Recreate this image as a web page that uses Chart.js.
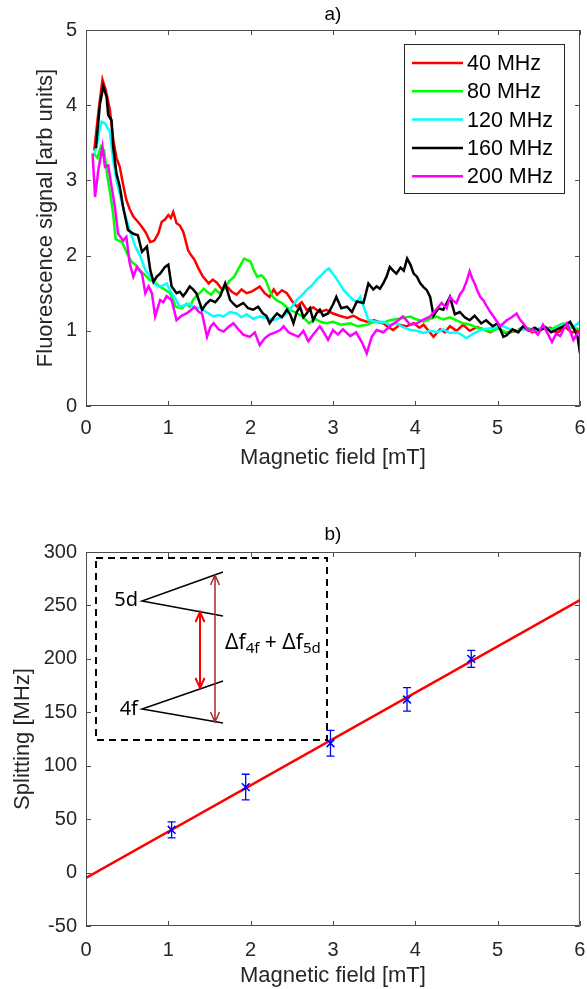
<!DOCTYPE html>
<html>
<head>
<meta charset="utf-8">
<script src="https://cdn.jsdelivr.net/npm/chart.js@4.4.0/dist/chart.umd.min.js"></script>
<style>
  html, body { margin: 0; padding: 0; background: #fff; }
  #top { position: absolute; left: 0; top: 0; width: 587px; height: 494px; }
  #bottom { position: absolute; left: 0; top: 494px; width: 587px; height: 495px; }
</style>
</head>
<body>
<div id="top"><canvas id="signalChart"></canvas></div>
<div id="bottom"><canvas id="splitChart"></canvas></div>
<script>
// a) fluorescence traces, one field/signal pair per RF frequency
const field40 = [0.10,0.15,0.20,0.24,0.29,0.33,0.37,0.41,0.45,0.49,0.53,0.575,0.63,0.68,0.73,0.78,0.83,0.88,0.92,0.96,1.00,1.03,1.06,1.10,1.14,1.18,1.21,1.24,1.28,1.32,1.37,1.42,1.49,1.54,1.59,1.65,1.71,1.77,1.83,1.89,1.95,2.01,2.07,2.11,2.17,2.23,2.28,2.32,2.38,2.44,2.50,2.56,2.62,2.68,2.76,2.84,2.92,3.00,3.08,3.17,3.25,3.33,3.41,3.50,3.61,3.67,3.73,3.81,3.89,3.98,4.05,4.10,4.16,4.22,4.30,4.36,4.42,4.50,4.58,4.66,4.75,4.83,4.91,5.00,5.10,5.23,5.32,5.42,5.52,5.64,5.72,5.82,5.90,6.00];
const signal40 = [3.40,3.90,4.34,4.20,3.94,3.55,3.30,3.18,2.95,2.74,2.62,2.52,2.45,2.38,2.30,2.18,2.20,2.30,2.45,2.48,2.54,2.50,2.58,2.43,2.40,2.32,2.20,2.07,2.00,1.94,1.82,1.72,1.63,1.68,1.64,1.55,1.59,1.52,1.48,1.55,1.50,1.52,1.56,1.59,1.50,1.45,1.55,1.48,1.54,1.50,1.40,1.32,1.38,1.28,1.31,1.25,1.28,1.23,1.20,1.17,1.20,1.15,1.12,1.14,1.10,1.05,1.01,1.08,1.06,1.10,1.04,1.08,1.00,0.92,1.02,0.98,1.06,1.00,1.08,1.00,1.05,1.02,0.98,1.04,0.97,1.00,1.06,0.98,1.02,1.04,0.97,1.05,0.98,1.00];

const field80 = [0.10,0.14,0.18,0.22,0.26,0.30,0.33,0.36,0.40,0.44,0.49,0.55,0.60,0.65,0.70,0.77,0.81,0.85,0.91,0.97,1.02,1.06,1.09,1.13,1.17,1.22,1.26,1.30,1.34,1.38,1.43,1.47,1.52,1.57,1.62,1.68,1.74,1.80,1.84,1.88,1.92,1.96,2.00,2.04,2.08,2.13,2.18,2.23,2.27,2.32,2.38,2.43,2.48,2.55,2.63,2.71,2.78,2.85,2.92,3.00,3.10,3.21,3.30,3.41,3.50,3.60,3.69,3.80,3.94,4.02,4.10,4.18,4.26,4.34,4.42,4.50,4.58,4.67,4.75,4.83,4.91,5.00,5.10,5.23,5.34,5.45,5.55,5.65,5.72,5.80,5.90,6.00];
const signal80 = [3.35,3.30,3.45,3.40,3.05,2.78,2.55,2.22,2.20,2.18,2.05,1.92,1.88,1.81,1.76,1.68,1.66,1.63,1.58,1.54,1.50,1.40,1.32,1.31,1.30,1.36,1.32,1.41,1.46,1.50,1.56,1.52,1.48,1.55,1.50,1.56,1.66,1.72,1.80,1.88,1.96,1.94,1.92,1.80,1.72,1.74,1.68,1.54,1.45,1.40,1.37,1.32,1.28,1.24,1.19,1.10,1.16,1.12,1.10,1.12,1.08,1.10,1.06,1.08,1.12,1.10,1.14,1.16,1.19,1.15,1.12,1.16,1.19,1.15,1.18,1.14,1.10,1.08,1.04,1.02,0.99,1.03,0.98,1.00,1.05,1.00,1.05,1.02,1.06,1.10,1.04,1.02];

const field120 = [0.10,0.13,0.16,0.19,0.23,0.26,0.29,0.33,0.37,0.41,0.47,0.53,0.60,0.66,0.72,0.76,0.80,0.84,0.88,0.93,0.98,1.04,1.09,1.14,1.20,1.26,1.32,1.38,1.46,1.55,1.61,1.67,1.75,1.83,1.89,1.95,2.03,2.11,2.20,2.28,2.36,2.44,2.50,2.56,2.62,2.68,2.74,2.80,2.86,2.92,2.95,3.00,3.06,3.13,3.19,3.25,3.29,3.33,3.38,3.43,3.52,3.61,3.69,3.77,3.85,3.94,4.02,4.10,4.18,4.26,4.34,4.42,4.50,4.56,4.62,4.70,4.77,4.83,4.95,5.07,5.19,5.31,5.43,5.55,5.66,5.76,5.84,5.92,6.00];
const signal120 = [3.35,3.45,3.65,3.78,3.76,3.70,3.65,3.27,3.00,2.82,2.56,2.34,2.12,1.99,1.81,1.75,1.69,1.62,1.59,1.60,1.63,1.50,1.42,1.32,1.34,1.36,1.30,1.31,1.25,1.19,1.21,1.19,1.25,1.23,1.18,1.22,1.16,1.19,1.17,1.14,1.18,1.23,1.32,1.41,1.47,1.54,1.60,1.68,1.74,1.81,1.83,1.76,1.66,1.54,1.47,1.41,1.38,1.45,1.30,1.14,1.12,1.12,1.08,1.10,1.05,1.01,1.00,0.97,1.00,0.98,1.02,0.97,0.98,0.95,0.90,0.96,1.00,1.02,1.04,1.06,1.00,1.02,1.00,1.05,1.00,1.06,1.10,1.05,1.12];

const field160 = [0.12,0.17,0.21,0.25,0.27,0.31,0.33,0.37,0.41,0.45,0.51,0.575,0.63,0.68,0.74,0.78,0.82,0.86,0.90,0.96,1.00,1.04,1.10,1.14,1.18,1.22,1.26,1.30,1.34,1.41,1.46,1.51,1.57,1.63,1.69,1.75,1.79,1.83,1.91,1.97,2.03,2.09,2.15,2.19,2.23,2.28,2.32,2.38,2.44,2.48,2.52,2.56,2.60,2.64,2.68,2.72,2.76,2.80,2.84,2.88,2.94,3.00,3.04,3.10,3.17,3.23,3.29,3.37,3.43,3.49,3.53,3.57,3.61,3.65,3.69,3.73,3.77,3.82,3.86,3.90,3.94,3.98,4.02,4.06,4.10,4.14,4.18,4.22,4.28,4.34,4.42,4.48,4.54,4.60,4.66,4.72,4.80,4.86,4.94,5.00,5.07,5.11,5.18,5.25,5.31,5.38,5.45,5.51,5.58,5.65,5.72,5.80,5.88,5.94,5.97,6.00];
const signal160 = [3.43,4.02,4.25,4.11,3.87,3.80,3.45,3.09,2.92,2.65,2.34,2.29,2.27,2.05,2.12,1.81,1.65,1.72,1.76,1.85,1.88,1.59,1.50,1.52,1.46,1.52,1.59,1.55,1.50,1.28,1.36,1.41,1.38,1.46,1.63,1.41,1.36,1.32,1.37,1.30,1.28,1.32,1.23,1.20,1.10,1.18,1.23,1.18,1.28,1.22,1.10,1.25,1.32,1.18,1.23,1.30,1.14,1.23,1.28,1.20,1.23,1.35,1.45,1.30,1.32,1.25,1.39,1.37,1.63,1.55,1.59,1.56,1.63,1.72,1.85,1.80,1.76,1.84,1.80,1.96,1.88,1.76,1.72,1.63,1.58,1.54,1.45,1.20,1.30,1.28,1.45,1.22,1.25,1.18,1.14,1.20,1.10,1.14,1.06,1.10,0.92,0.94,1.02,0.98,1.06,1.00,1.04,1.00,1.05,0.98,1.02,1.06,1.12,1.00,0.92,0.70];

const field200 = [0.08,0.11,0.15,0.20,0.23,0.27,0.31,0.35,0.39,0.45,0.49,0.53,0.575,0.62,0.68,0.72,0.76,0.80,0.84,0.90,0.94,0.98,1.04,1.10,1.16,1.22,1.28,1.32,1.37,1.41,1.47,1.51,1.55,1.61,1.67,1.73,1.79,1.85,1.91,1.99,2.05,2.11,2.17,2.23,2.30,2.36,2.40,2.46,2.52,2.58,2.64,2.70,2.76,2.84,2.90,2.94,3.00,3.06,3.12,3.21,3.28,3.35,3.41,3.47,3.53,3.61,3.69,3.77,3.85,3.94,4.02,4.10,4.18,4.25,4.32,4.38,4.42,4.46,4.50,4.54,4.58,4.62,4.66,4.69,4.72,4.76,4.79,4.83,4.87,4.91,4.95,5.03,5.11,5.17,5.23,5.27,5.31,5.37,5.43,5.49,5.55,5.60,5.66,5.71,5.76,5.80,5.84,5.88,5.92,5.96,6.00];
const signal200 = [3.36,2.78,3.14,3.45,3.18,3.20,2.92,2.65,2.29,2.20,2.25,1.90,1.72,1.85,1.76,1.50,1.59,1.50,1.19,1.41,1.38,1.46,1.41,1.14,1.20,1.23,1.28,1.32,1.25,1.23,0.92,1.05,1.10,1.02,0.99,1.05,1.10,1.02,0.95,0.92,0.98,0.81,0.90,0.95,0.98,1.01,1.06,0.98,0.95,0.92,1.00,0.86,0.95,1.06,0.96,0.88,1.01,0.95,1.02,0.93,0.98,0.85,0.70,0.92,1.01,0.98,1.06,1.12,1.19,1.08,1.10,1.15,1.19,1.28,1.37,1.30,1.45,1.40,1.37,1.48,1.54,1.65,1.79,1.70,1.63,1.52,1.45,1.40,1.32,1.25,1.19,1.06,1.14,1.18,1.23,1.15,1.10,1.00,1.02,0.95,1.08,0.98,0.85,0.96,0.93,1.02,1.10,1.00,0.88,0.95,1.00];

// b) measured splitting with error bars and the linear fit
const pointField = [1.04, 1.94, 2.97, 3.90, 4.68];
const pointSplit = [40, 80, 121, 162, 200];
const pointErr = [7.5, 12, 12, 11, 8];
const fitField = [0, 6];
const fitSplit = [-5, 255];

const fieldTicks = [0, 1, 2, 3, 4, 5, 6];
const signalTicks = [0, 1, 2, 3, 4, 5];
const splitTicks = [-50, 0, 50, 100, 150, 200, 250, 300];

const FONT = '"Liberation Sans", Arial, sans-serif';
const INSET_FONT = '"Noto Sans", "DejaVu Sans", sans-serif';
Chart.defaults.font.family = FONT;
Chart.defaults.color = '#262626';

const toPoints = (xs, ys) => xs.map((x, i) => ({ x, y: ys[i] }));

function trace(label, color, xs, ys, order) {
    return {
        label,
        data: toPoints(xs, ys),
        borderColor: color,
        backgroundColor: color,
        borderWidth: 2.5,
        pointRadius: 0,
        tension: 0,
        order
    };
}

// MATLAB style box with inward ticks on all four sides
const boxTicks = {
    id: 'boxTicks',
    afterDatasetsDraw(chart) {
        const { ctx, chartArea: a, scales: { x, y } } = chart;
        ctx.save();
        ctx.strokeStyle = '#4d4d4d';
        ctx.lineWidth = 1;
        ctx.beginPath();
        ctx.rect(a.left + 0.5, a.top + 0.5, a.right - a.left - 1, a.bottom - a.top - 1);
        x.ticks.forEach(t => {
            const px = Math.round(x.getPixelForValue(t.value)) + 0.5;
            ctx.moveTo(px, a.bottom); ctx.lineTo(px, a.bottom - 5);
            ctx.moveTo(px, a.top); ctx.lineTo(px, a.top + 5);
        });
        y.ticks.forEach(t => {
            const py = Math.round(y.getPixelForValue(t.value)) + 0.5;
            ctx.moveTo(a.left, py); ctx.lineTo(a.left + 5, py);
            ctx.moveTo(a.right, py); ctx.lineTo(a.right - 5, py);
        });
        ctx.stroke();
        ctx.restore();
    }
};

const boxLegend = {
    id: 'boxLegend',
    afterDraw(chart) {
        const { ctx, chartArea: a } = chart;
        const left = a.right - 176, top = a.top + 14;
        ctx.save();
        ctx.fillStyle = '#fff';
        ctx.fillRect(left, top, 160, 149);
        ctx.strokeStyle = '#262626';
        ctx.lineWidth = 1;
        ctx.strokeRect(left + 0.5, top + 0.5, 160, 149);
        ctx.font = '21.5px ' + FONT;
        ctx.textBaseline = 'middle';
        chart.data.datasets.forEach((ds, i) => {
            const yy = top + 19 + i * 28.3;
            ctx.strokeStyle = ds.borderColor;
            ctx.lineWidth = 2.5;
            ctx.beginPath();
            ctx.moveTo(left + 8, yy);
            ctx.lineTo(left + 59, yy);
            ctx.stroke();
            ctx.fillStyle = '#000';
            ctx.fillText(ds.label, left + 63, yy + 1);
        });
        ctx.restore();
    }
};

const errorBars = {
    id: 'errorBars',
    afterDatasetsDraw(chart) {
        const { ctx, scales: { x, y } } = chart;
        ctx.save();
        ctx.strokeStyle = '#0000ff';
        ctx.lineWidth = 1.3;
        ctx.beginPath();
        pointField.forEach((f, i) => {
            const px = x.getPixelForValue(f);
            const y0 = y.getPixelForValue(pointSplit[i] - pointErr[i]);
            const y1 = y.getPixelForValue(pointSplit[i] + pointErr[i]);
            ctx.moveTo(px, y0); ctx.lineTo(px, y1);
            ctx.moveTo(px - 4, y0); ctx.lineTo(px + 4, y0);
            ctx.moveTo(px - 4, y1); ctx.lineTo(px + 4, y1);
        });
        ctx.stroke();
        ctx.restore();
    }
};

function arrowHead(ctx, x, y, dir) {
    ctx.moveTo(x - 4.5, y + dir * 10);
    ctx.lineTo(x, y);
    ctx.lineTo(x + 4.5, y + dir * 10);
}

// level scheme drawn in the upper left of panel b)
const levelInset = {
    id: 'levelInset',
    afterDraw(chart) {
        const { ctx, chartArea: a } = chart;
        ctx.save();
        ctx.translate(a.left, a.top);

        ctx.strokeStyle = '#000';
        ctx.lineWidth = 2;
        ctx.setLineDash([7, 5]);
        ctx.strokeRect(10, 6, 231, 182);
        ctx.setLineDash([]);

        ctx.lineWidth = 1.5;
        ctx.beginPath();
        ctx.moveTo(137, 20); ctx.lineTo(56, 49); ctx.lineTo(137, 64);
        ctx.moveTo(137, 129); ctx.lineTo(56, 157); ctx.lineTo(137, 171);
        ctx.stroke();

        ctx.fillStyle = '#000';
        ctx.font = '20px ' + INSET_FONT;
        ctx.textBaseline = 'middle';
        ctx.textAlign = 'right';
        ctx.fillText('5d', 52, 48);
        ctx.fillText('4f', 52, 157);

        // long arrow (total splitting)
        ctx.strokeStyle = '#a52a2a';
        ctx.lineWidth = 1.5;
        ctx.beginPath();
        ctx.moveTo(129, 23); ctx.lineTo(129, 170);
        arrowHead(ctx, 129, 23, 1);
        arrowHead(ctx, 129, 170, -1);
        ctx.stroke();

        // short arrow (optical transition)
        ctx.strokeStyle = '#ff0000';
        ctx.lineWidth = 2;
        ctx.beginPath();
        ctx.moveTo(114, 60); ctx.lineTo(114, 136);
        arrowHead(ctx, 114, 60, 1);
        arrowHead(ctx, 114, 136, -1);
        ctx.stroke();

        ctx.textAlign = 'left';
        let tx = 139;
        const ty = 91;
        const part = (s, size, dy) => {
            ctx.font = size + 'px ' + INSET_FONT;
            ctx.fillText(s, tx, ty + dy);
            tx += ctx.measureText(s).width;
        };
        part('\u0394f', 21, 0);
        part('4f', 15, 6);
        part(' + \u0394f', 21, 0);
        part('5d', 15, 6);
        ctx.restore();
    }
};

function xScale(height, tickPad, titleBottom) {
    return {
        type: 'linear',
        min: 0, max: 6,
        afterBuildTicks: s => { s.ticks = fieldTicks.map(v => ({ value: v })); },
        afterFit: s => { s.height = height; s.paddingLeft = 0; s.paddingRight = 0; },
        grid: { display: false, drawTicks: false },
        border: { display: false },
        ticks: { font: { size: 20 }, color: '#262626', padding: tickPad, maxRotation: 0 },
        title: { display: true, text: 'Magnetic field [mT]', font: { size: 22 }, color: '#262626', padding: { top: 0, bottom: titleBottom } }
    };
}

function yScale(min, max, tickList, title, titleTop) {
    return {
        type: 'linear',
        min, max,
        afterBuildTicks: s => { s.ticks = tickList.map(v => ({ value: v })); },
        afterFit: s => { s.width = 86; s.paddingTop = 0; s.paddingBottom = 0; },
        grid: { display: false, drawTicks: false },
        border: { display: false },
        ticks: { font: { size: 20 }, color: '#262626', padding: 9 },
        title: { display: true, text: title, font: { size: 22 }, color: '#262626', padding: { top: titleTop, bottom: 0 } }
    };
}

new Chart(document.getElementById('signalChart'), {
    type: 'line',
    data: {
        datasets: [
            trace('40 MHz', '#ff0000', field40, signal40, 5),
            trace('80 MHz', '#00ff00', field80, signal80, 4),
            trace('120 MHz', '#00ffff', field120, signal120, 3),
            trace('160 MHz', '#000000', field160, signal160, 2),
            trace('200 MHz', '#ff00ff', field200, signal200, 1)
        ]
    },
    options: {
        responsive: true,
        maintainAspectRatio: false,
        animation: false,
        layout: { padding: { top: 0, right: 7, bottom: 0, left: 0 } },
        plugins: {
            legend: { display: false },
            tooltip: { enabled: false },
            title: { display: true, text: 'a)', fullSize: false, color: '#000', font: { size: 19, weight: 'normal' }, padding: { top: 3, bottom: 4.2 } }
        },
        scales: {
            x: xScale(88, 10, 22.8),
            y: yScale(0, 5, signalTicks, 'Fluorescence signal [arb units]', 33)
        }
    },
    plugins: [boxTicks, boxLegend]
});

new Chart(document.getElementById('splitChart'), {
    type: 'line',
    data: {
        datasets: [
            {
                label: 'fit',
                data: toPoints(fitField, fitSplit),
                borderColor: '#ff0000',
                borderWidth: 2.5,
                pointRadius: 0,
                order: 2
            },
            {
                label: 'splitting',
                data: toPoints(pointField, pointSplit),
                showLine: false,
                pointStyle: 'crossRot',
                pointRadius: 5.5,
                pointBorderWidth: 1.6,
                borderColor: '#0000ff',
                backgroundColor: '#0000ff',
                order: 1
            }
        ]
    },
    options: {
        responsive: true,
        maintainAspectRatio: false,
        animation: false,
        layout: { padding: { top: 0, right: 7, bottom: 0, left: 0 } },
        plugins: {
            legend: { display: false },
            tooltip: { enabled: false },
            title: { display: true, text: 'b)', fullSize: false, color: '#000', font: { size: 19, weight: 'normal' }, padding: { top: 29.6, bottom: 5.6 } }
        },
        scales: {
            x: xScale(63, 12, 0),
            y: yScale(-50, 300, splitTicks, 'Splitting [MHz]', 10)
        }
    },
    plugins: [boxTicks, errorBars, levelInset]
});
</script>
</body>
</html>
